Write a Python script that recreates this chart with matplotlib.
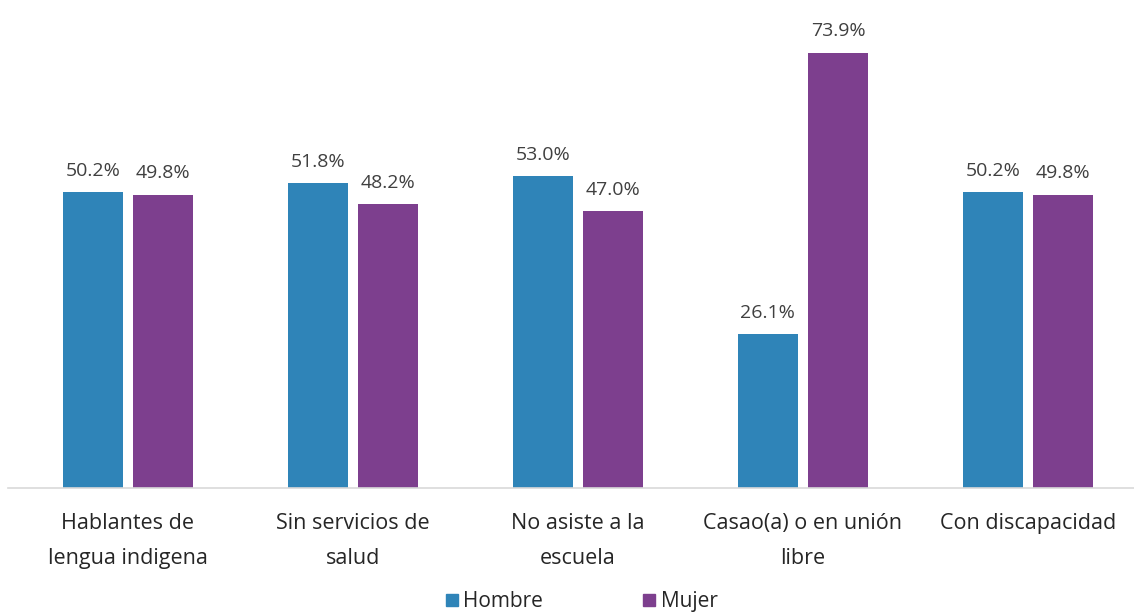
import numpy as np
import matplotlib.pyplot as plt
from matplotlib.lines import Line2D

# Datos
categorias = ["Hablantes de\nlengua indigena", "Sin servicios de\nsalud",
              "No asiste a la\nescuela", "Casao(a) o en unión\nlibre",
              "Con discapacidad"]
hombre = [50.2, 51.8, 53.0, 26.1, 50.2]
mujer = [49.8, 48.2, 47.0, 73.9, 49.8]

plt.rcParams['font.family'] = ['Open Sans', 'DejaVu Sans']

azul = "#2F84B8"
morado = "#7D3F8E"
texto = "#404040"

fig = plt.figure(figsize=(11.34, 6.14), dpi=100)
ax = fig.add_axes([0.007, 0.2052, 0.993, 0.767])

x = np.arange(len(categorias))
ancho = 0.267
desp = 0.156

b1 = ax.bar(x - desp, hombre, ancho, color=azul, label="Hombre")
b2 = ax.bar(x + desp, mujer, ancho, color=morado, label="Mujer")

for barras, valores in ((b1, hombre), (b2, mujer)):
    for b, v in zip(barras, valores):
        ax.annotate(f"{v:.1f}%", (b.get_x() + b.get_width() / 2, v),
                    xytext=(0, 9), textcoords="offset points",
                    ha="center", va="bottom", fontsize=14, color=texto)

ax.set_xlim(-0.533, 4.471)
ax.set_ylim(0, 80)
ax.set_xticks(x)
ax.set_xticklabels(categorias, fontsize=15.5, color="#262626", linespacing=1.85)
ax.tick_params(axis="x", length=0, pad=18)
ax.set_yticks([])
for lado in ("top", "right", "left"):
    ax.spines[lado].set_visible(False)
ax.spines["bottom"].set_color("#D9D9D9")
ax.spines["bottom"].set_linewidth(1.2)

handles = [Line2D([], [], marker="s", linestyle="none", color=azul, markersize=9),
           Line2D([], [], marker="s", linestyle="none", color=morado, markersize=9)]
fig.legend(handles, ["Hombre", "Mujer"], loc="lower center", bbox_to_anchor=(0.513, -0.027),
           ncol=2, frameon=False, fontsize=15, handlelength=0.6, handletextpad=0.25,
           columnspacing=4.8, labelcolor="#262626")

fig.savefig("out.png", dpi=100)
